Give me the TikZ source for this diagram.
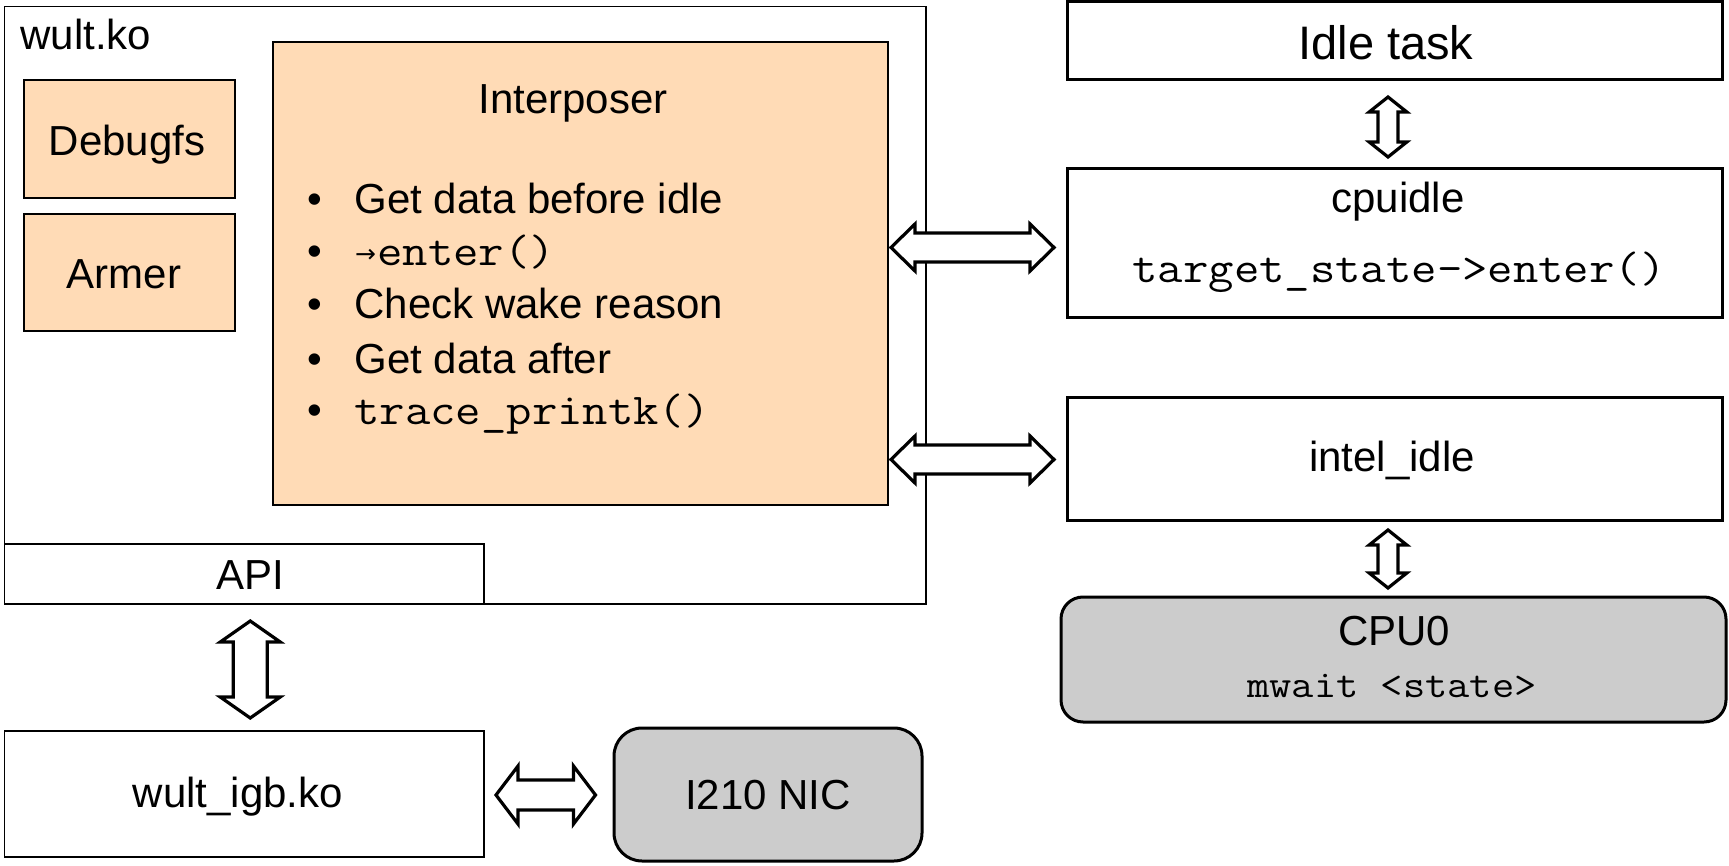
\documentclass[tikz,border=0pt]{standalone}
\usepackage{fontspec}
\setmainfont{Liberation Sans}
\setmonofont[FakeStretch=1.12]{Latin Modern Mono}
\newfontfamily\symfont{DejaVu Sans}
\usetikzlibrary{calc,fit}

\definecolor{peach}{HTML}{FFDBB6}
\definecolor{chipgray}{HTML}{CCCCCC}

% Block double arrow between two points:
% #1,#2 tips, #3 half head width, #4 half shaft width, #5 head length
\newcommand\blockarrow[5]{%
  \draw[blockarr] (#1)
    -- ($(#1)!#5!(#2)!#3!90:(#2)$)
    -- ($(#1)!#5!(#2)!#4!90:(#2)$)
    -- ($(#2)!#5!(#1)!#4!-90:(#1)$)
    -- ($(#2)!#5!(#1)!#3!-90:(#1)$)
    -- (#2)
    -- ($(#2)!#5!(#1)!#3!90:(#1)$)
    -- ($(#2)!#5!(#1)!#4!90:(#1)$)
    -- ($(#1)!#5!(#2)!#4!-90:(#2)$)
    -- ($(#1)!#5!(#2)!#3!-90:(#2)$)
    -- cycle;}

\tikzset{
  thinbox/.style={draw, line width=0.8pt, inner sep=0pt, outer sep=0pt},
  thickbox/.style={draw, line width=1.5pt, inner sep=0pt, outer sep=0pt},
  blockarr/.style={draw, fill=white, line width=1.6pt, line join=miter},
  lbl/.style={font=\fontsize{21}{25}\selectfont, inner sep=0pt, anchor=base},
  biglbl/.style={font=\fontsize{23.5}{28}\selectfont, inner sep=0pt, anchor=base},
  code/.style={font=\ttfamily\fontsize{22}{26}\selectfont, inner sep=0pt, anchor=base},
  smallcode/.style={font=\ttfamily\fontsize{19.3}{23}\selectfont, inner sep=0pt, anchor=base},
}

\begin{document}
\begin{tikzpicture}[x=0.5pt,y=-0.5pt]
\useasboundingbox (0,0) rectangle (1729,866);

% wult.ko module and its parts
\node[thinbox, fill=white, fit={(4.5,6.5) (926,604)}] (wult) {};
\node[thinbox, fill=peach, fit={(24,80) (235,198)}] (debugfs) {};
\node[thinbox, fill=peach, fit={(24,214) (235,331)}] (armer) {};
\node[thinbox, fill=peach, fit={(273,42) (888,505)}] (interposer) {};
\node[thinbox, fill=white, fit={(4.5,544) (484,604)}] (api) {};

% driver and NIC
\node[thinbox, fill=white, fit={(4.5,731) (484,857)}] (igb) {};
\node[thickbox, rounded corners=14pt, fill=chipgray, fit={(614,728) (922,861)}] (nic) {};

% idle path on the right
\node[thickbox, fill=white, fit={(1067,2) (1722,80)}] (idletask) {};
\node[thickbox, fill=white, fit={(1067,169) (1722,317)}] (cpuidle) {};
\node[thickbox, fill=white, fit={(1067,397) (1722,520)}] (intelidle) {};
\node[thickbox, rounded corners=11pt, fill=chipgray, fit={(1061,597) (1726,722)}] (cpu) {};

% labels
\node[lbl, anchor=base west] (wultlbl) at (20,50) {wult.ko};
\node[lbl] (debugfslbl) at (127,156) {Debugfs};
\node[lbl] (armerlbl) at (124,289) {Armer};
\node[lbl] (interposerlbl) at (573,113.5) {Interposer};
\node[lbl] (apilbl) at (250,589) {API};
\node[lbl] (igblbl) at (238,807) {wult\_igb.ko};
\node[lbl] (niclbl) at (768,809) {I210 NIC};
\node[biglbl] (idlelbl) at (1386,60) {Idle task};
\node[lbl] (cpuidlelbl) at (1398,213) {cpuidle};
\node[code] (enterlbl) at (1399,283) {target\_state->enter()};
\node[lbl] (intellbl) at (1392,471) {intel\_idle};
\node[lbl] (cpulbl) at (1394,645) {CPU0};
\node[smallcode] (mwaitlbl) at (1392,697) {mwait <state>};

% interposer steps
\foreach \y/\n in {213.5/1, 265/2, 318.5/3, 373/4, 424.5/5}
  \node[lbl] (bullet\n) at (315,\y) {•};
\node[lbl, anchor=base west] (step1) at (354,213.5) {Get data before idle};
\node[font=\symfont\fontsize{12.5}{14}\selectfont, inner sep=0pt] (step2arrow) at (365.5,256) {→};
\node[code, anchor=base west] (step2) at (377,265) {enter()};
\node[lbl, anchor=base west] (step3) at (354,318.5) {Check wake reason};
\node[lbl, anchor=base west] (step4) at (354,373) {Get data after};
\node[code, anchor=base west] (step5) at (354,424.5) {trace\_printk()};

% arrow end points
\coordinate (h1a) at ($(interposer.east)+(3,-26)$);
\coordinate (h1b) at ($(cpuidle.west)+(-13,4.5)$);
\coordinate (h2a) at ($(interposer.east)+(3,186)$);
\coordinate (h2b) at ($(intelidle.west)+(-13,1)$);
\coordinate (v1a) at ($(idletask.south)+(-6.5,17)$);
\coordinate (v1b) at ($(cpuidle.north)+(-6.5,-12)$);
\coordinate (v2a) at ($(intelidle.south)+(-6.5,10)$);
\coordinate (v2b) at ($(cpu.north)+(-5.5,-9)$);
\coordinate (v3a) at ($(api.south)+(6,17)$);
\coordinate (v3b) at ($(igb.north)+(6,-13)$);
\coordinate (h3a) at ($(igb.east)+(12,1)$);
\coordinate (h3b) at ($(nic.west)+(-18.5,0.5)$);

% block arrows
\blockarrow{h1a}{h1b}{11.75pt}{7.25pt}{12pt}
\blockarrow{h2a}{h2b}{11.75pt}{7.25pt}{12pt}
\blockarrow{v1a}{v1b}{9.4pt}{5pt}{7.5pt}
\blockarrow{v2a}{v2b}{9.4pt}{5pt}{7.5pt}
\blockarrow{v3a}{v3b}{15pt}{8.5pt}{10.5pt}
\blockarrow{h3a}{h3b}{14.5pt}{7.5pt}{11pt}
\end{tikzpicture}
\end{document}
